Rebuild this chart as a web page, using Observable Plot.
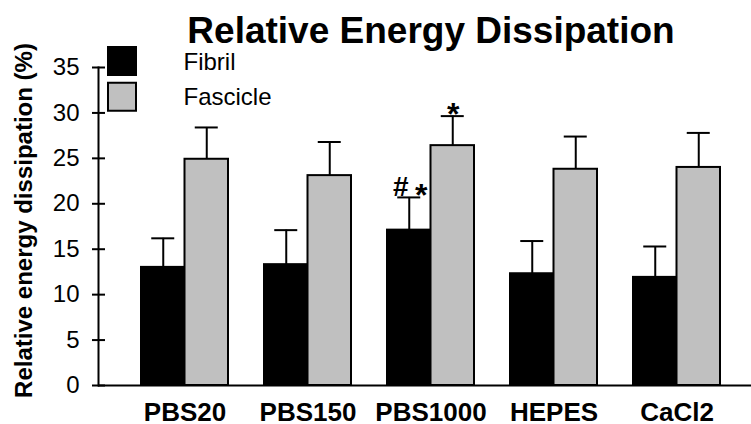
<!DOCTYPE html>
<html>
<head>
<meta charset="utf-8">
<script src="https://cdn.jsdelivr.net/npm/d3@7"></script>
<script src="https://cdn.jsdelivr.net/npm/@observablehq/plot@0.6"></script>
<style>
  html, body { margin: 0; padding: 0; background: white; }
  #chart svg { display: block; }
</style>
</head>
<body>
<div id="chart"></div>
<script>
// Treatment groups and the two tissue levels measured in each
const groups = ["PBS20", "PBS150", "PBS1000", "HEPES", "CaCl2"];
const seriesNames = ["Fibril", "Fascicle"];
const seriesColors = ["#000000", "#c0c0c0"];

// Mean relative energy dissipation (%) and error (SD)
const fibrilMean = [13.0, 13.3, 17.1, 12.3, 11.9];
const fibrilErr = [3.2, 3.8, 3.6, 3.6, 3.4];
const fascicleMean = [24.9, 23.1, 26.4, 23.8, 24.0];
const fascicleErr = [3.5, 3.7, 3.25, 3.6, 3.8];

// Significance markers per group
const fibrilHash = ["", "", "#", "", ""];
const fibrilStar = ["", "", "*", "", ""];
const fascicleStar = ["", "", "*", "", ""];

const yTicks = [0, 5, 10, 15, 20, 25, 30, 35];

const fibril = groups.map((g, i) => ({group: g, series: "Fibril", mean: fibrilMean[i], err: fibrilErr[i], hash: fibrilHash[i], star: fibrilStar[i]}));
const fascicle = groups.map((g, i) => ({group: g, series: "Fascicle", mean: fascicleMean[i], err: fascicleErr[i], star: fascicleStar[i]}));
const errTop = d => d.mean + d.err;

// Layout constants (pixels)
const barW = 43.5;
const capW = 23;
const bandW = barW * 2;
const font = "'Liberation Sans', Arial, Helvetica, sans-serif";

const chart = Plot.plot({
  width: 751,
  height: 424,
  marginLeft: 98,
  marginRight: 0,
  marginTop: 67,
  marginBottom: 39,
  style: {fontFamily: font, fontSize: "24px", color: "black", background: "white", overflow: "visible"},
  x: {type: "band", domain: groups, range: [140.7, 720.7], paddingInner: 0.294, paddingOuter: 0},
  y: {domain: [0, 35]},
  color: {domain: seriesNames, range: seriesColors},
  marks: [
    // bars
    Plot.barY(fibril, {x: "group", y: "mean", fill: "series", stroke: "black", strokeWidth: 2, insetRight: barW}),
    Plot.barY(fascicle, {x: "group", y: "mean", fill: "series", stroke: "black", strokeWidth: 2, insetLeft: barW}),
    // error bars (upper)
    Plot.ruleX(fibril, {x: "group", y1: "mean", y2: errTop, dx: -barW / 2, strokeWidth: 2}),
    Plot.ruleX(fascicle, {x: "group", y1: "mean", y2: errTop, dx: barW / 2, strokeWidth: 2}),
    Plot.tickY(fibril, {x: "group", y: errTop, strokeWidth: 2,
      insetLeft: barW / 2 - capW / 2, insetRight: bandW - barW / 2 - capW / 2}),
    Plot.tickY(fascicle, {x: "group", y: errTop, strokeWidth: 2,
      insetLeft: barW + barW / 2 - capW / 2, insetRight: barW / 2 - capW / 2}),
    // significance markers
    Plot.text(fibril.filter(d => d.hash), {x: "group", y: errTop, text: "hash",
      dx: -barW / 2 - 8.5, dy: -10, fontSize: 28, fontWeight: "bold"}),
    Plot.text(fibril.filter(d => d.star), {x: "group", y: errTop, text: "star",
      dx: -barW / 2 + 12, dy: -2, fontSize: 32, fontWeight: "bold"}),
    Plot.text(fascicle.filter(d => d.star), {x: "group", y: errTop, text: "star",
      dx: barW / 2 + 0.5, dy: -1, fontSize: 32, fontWeight: "bold"}),
    // axes
    Plot.ruleY([0], {strokeWidth: 2}),
    Plot.frame({anchor: "left", strokeWidth: 2}),
    Plot.axisY({ticks: yTicks, tickSize: 13, dx: 7, tickPadding: 13, strokeWidth: 2, fontSize: 24, label: null}),
    Plot.axisX({tickSize: 0, tickPadding: 17, fontSize: 26, fontWeight: "bold", label: null}),
    // y-axis title
    Plot.text(["Relative energy dissipation (%)"], {frameAnchor: "left", textAnchor: "middle", lineAnchor: "middle",
      rotate: -90, dx: -74, dy: -6, fontSize: 24, fontWeight: "bold"}),
    // chart title
    Plot.text(["Relative Energy Dissipation"], {frameAnchor: "top-left", textAnchor: "middle", lineAnchor: "middle",
      dx: 332.5, dy: -36, fontSize: 37, fontWeight: "bold"}),
    // legend swatches and labels
    Plot.dot([seriesNames[0]], {frameAnchor: "top-left", symbol: "square", r: 15.8, fill: d => d,
      stroke: "black", strokeWidth: 2, dx: 23.5, dy: -6.5}),
    Plot.dot([seriesNames[1]], {frameAnchor: "top-left", symbol: "square", r: 15.8, fill: d => d,
      stroke: "black", strokeWidth: 2, dx: 23.5, dy: 29.3}),
    Plot.text([seriesNames[0]], {frameAnchor: "top-left", textAnchor: "start", lineAnchor: "middle",
      dx: 85, dy: -4.8, fontSize: 24}),
    Plot.text([seriesNames[1]], {frameAnchor: "top-left", textAnchor: "start", lineAnchor: "middle",
      dx: 85, dy: 30.1, fontSize: 24}),
  ]
});
document.getElementById("chart").appendChild(chart);
</script>
</body>
</html>
